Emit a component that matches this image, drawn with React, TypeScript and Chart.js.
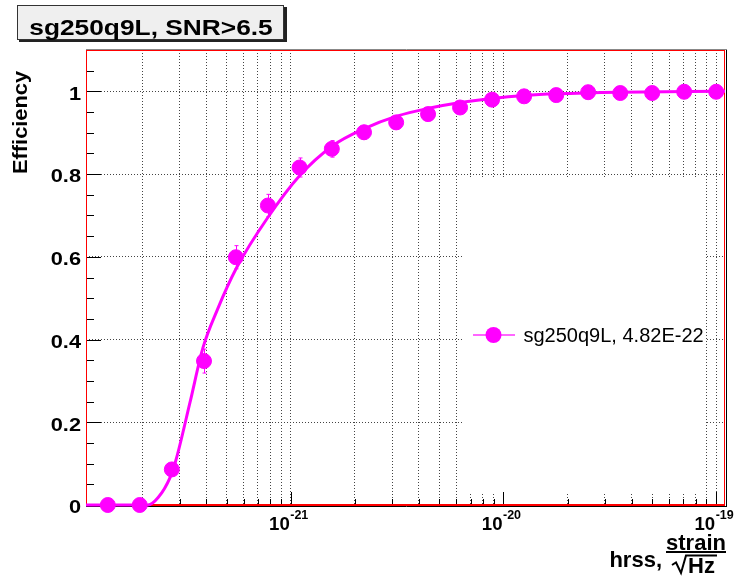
import React, { useEffect, useRef } from "react";
import { Chart, registerables } from "chart.js";

Chart.register(...registerables);

// ---- data ----
const hrss = [1.38e-22, 1.95e-22, 2.76e-22, 3.91e-22, 5.52e-22, 7.81e-22, 1.10e-21, 1.56e-21, 2.21e-21, 3.13e-21, 4.42e-21, 6.25e-21, 8.84e-21, 1.25e-20, 1.77e-20, 2.50e-20, 3.54e-20, 5.00e-20, 7.07e-20, 1.00e-19];
const efficiency = [0, 0, 0.086, 0.348, 0.599, 0.724, 0.816, 0.861, 0.901, 0.925, 0.945, 0.961, 0.98, 0.988, 0.991, 0.998, 0.996, 0.996, 0.999, 0.999];
const effError = [0.002, 0.002, 0.016, 0.029, 0.028, 0.027, 0.023, 0.02, 0.017, 0.015, 0.013, 0.011, 0.008, 0.006, 0.005, 0.003, 0.003, 0.003, 0.002, 0.002];

const fitHrss = [1.09e-22, 2.13e-22, 2.38e-22, 2.71e-22, 2.88e-22, 3.36e-22, 3.87e-22, 4.5e-22, 5.57e-22, 7.8e-22, 1.1e-21, 1.57e-21, 2.22e-21, 3.15e-21, 4.45e-21, 6.28e-21, 8.87e-21, 1.26e-20, 1.77e-20, 3.51e-20, 1.1e-19];
const fitEff = [0, 0, 0.018, 0.067, 0.107, 0.248, 0.381, 0.47, 0.574, 0.695, 0.796, 0.868, 0.91, 0.94, 0.959, 0.973, 0.983, 0.99, 0.994, 0.998, 1.0];

const xMin = 1.09e-22;
const xMax = 1.1e-19;
const xGridTicks = [2e-22, 3e-22, 4e-22, 5e-22, 6e-22, 7e-22, 8e-22, 9e-22, 1e-21, 2e-21, 3e-21, 4e-21, 5e-21, 6e-21, 7e-21, 8e-21, 9e-21, 1e-20, 2e-20, 3e-20, 4e-20, 5e-20, 6e-20, 7e-20, 8e-20, 9e-20, 1e-19];
const xMajorTicks = [1e-21, 1e-20, 1e-19];
const xMajorExponents = ["-21", "-20", "-19"];
const yTicks = [0, 0.2, 0.4, 0.6, 0.8, 1];
const yTickLabels = ["0", "0.2", "0.4", "0.6", "0.8", "1"];
const yMinorTicks = [0.05, 0.1, 0.15, 0.25, 0.3, 0.35, 0.45, 0.5, 0.55, 0.65, 0.7, 0.75, 0.85, 0.9, 0.95, 1.05];

const titleText = "sg250q9L, SNR>6.5";
const legendText = "sg250q9L, 4.82E-22";
const yTitle = "Efficiency";
const MAGENTA = "#ff00ff";

function drawText(ctx: CanvasRenderingContext2D, s: string, x: number, y: number, font: string, align: CanvasTextAlign, sx: number, color = "#000", rot = 0) {
  ctx.save();
  ctx.font = font;
  ctx.fillStyle = color;
  ctx.textBaseline = "alphabetic";
  ctx.textAlign = align;
  ctx.translate(x, y);
  if (rot) ctx.rotate(rot);
  ctx.scale(sx, 1);
  ctx.fillText(s, 0, 0);
  ctx.restore();
}

const rootPlugin = {
  id: "rootDecor",
  beforeDatasetsDraw(chart: any) {
    const ctx: CanvasRenderingContext2D = chart.ctx;
    const xs = chart.scales.x;
    const ys = chart.scales.y;
    const area = chart.chartArea;
    // legend box (white, covers grid)
    ctx.save();
    ctx.fillStyle = "#ffffff";
    ctx.fillRect(463, 177, 242, 316);
    ctx.restore();

    // inner tick marks
    ctx.save();
    ctx.strokeStyle = "#000";
    ctx.lineWidth = 1;
    ctx.beginPath();
    xGridTicks.forEach((v) => {
      const px = Math.round(xs.getPixelForValue(v)) + 0.5;
      const len = xMajorTicks.includes(v) ? 13 : 6;
      ctx.moveTo(px, area.bottom);
      ctx.lineTo(px, area.bottom - len);
    });
    yTicks.forEach((v) => {
      const py = Math.round(ys.getPixelForValue(v)) + 0.5;
      ctx.moveTo(area.left, py);
      ctx.lineTo(area.left + 15, py);
    });
    yMinorTicks.forEach((v) => {
      const py = Math.round(ys.getPixelForValue(v)) + 0.5;
      ctx.moveTo(area.left, py);
      ctx.lineTo(area.left + 8, py);
    });
    ctx.stroke();
    ctx.restore();

    // frame
    ctx.save();
    ctx.lineWidth = 1;
    ctx.strokeStyle = "#888";
    ctx.beginPath();
    ctx.moveTo(area.left, area.top - 0.5);
    ctx.lineTo(area.right + 2, area.top - 0.5);
    ctx.stroke();
    ctx.strokeStyle = "#000";
    ctx.beginPath();
    ctx.moveTo(area.right + 1.5, area.top);
    ctx.lineTo(area.right + 1.5, area.bottom + 2);
    ctx.moveTo(area.left, area.bottom + 1.5);
    ctx.lineTo(area.right + 2, area.bottom + 1.5);
    ctx.stroke();
    ctx.strokeStyle = "#ff0000";
    ctx.strokeRect(area.left + 0.5, area.top + 0.5, area.right - area.left - 1, area.bottom - area.top - 1);
    ctx.lineWidth = 2;
    ctx.beginPath();
    ctx.moveTo(area.left, area.bottom);
    ctx.lineTo(area.right, area.bottom);
    ctx.stroke();
    ctx.restore();
  },
  afterDatasetsDraw(chart: any) {
    const ctx: CanvasRenderingContext2D = chart.ctx;
    const xs = chart.scales.x;
    const ys = chart.scales.y;
    // error bars
    ctx.save();
    ctx.strokeStyle = MAGENTA;
    ctx.lineWidth = 1;
    ctx.beginPath();
    hrss.forEach((h, i) => {
      const px = Math.round(xs.getPixelForValue(h)) + 0.5;
      const y1 = ys.getPixelForValue(efficiency[i] - effError[i]);
      const y2 = ys.getPixelForValue(efficiency[i] + effError[i]);
      ctx.moveTo(px, y1);
      ctx.lineTo(px, y2);
      ctx.moveTo(px - 2, y1);
      ctx.lineTo(px + 2, y1);
      ctx.moveTo(px - 2, y2);
      ctx.lineTo(px + 2, y2);
    });
    ctx.stroke();
    ctx.restore();

    // legend entry
    ctx.save();
    ctx.strokeStyle = "#ff66ff";
    ctx.lineWidth = 2;
    ctx.beginPath();
    ctx.moveTo(473, 335);
    ctx.lineTo(515, 335);
    ctx.stroke();
    ctx.fillStyle = MAGENTA;
    ctx.beginPath();
    ctx.arc(493.5, 335, 8, 0, Math.PI * 2);
    ctx.fill();
    ctx.restore();
    drawText(ctx, legendText, 523.5, 341.5, '20px "Liberation Sans", Arial, sans-serif', "left", 1.0, "#000");
  },
  afterDraw(chart: any) {
    const ctx: CanvasRenderingContext2D = chart.ctx;
    const xs = chart.scales.x;
    const ys = chart.scales.y;
    const boldFont = (px: number) => `bold ${px}px "Liberation Sans", Arial, sans-serif`;

    // y tick labels
    yTicks.forEach((v, i) => {
      const py = ys.getPixelForValue(v);
      drawText(ctx, yTickLabels[i], 81, py + 8.4, boldFont(18.6), "right", 1.17);
    });
    // x tick labels 10^n
    xMajorTicks.forEach((v, i) => {
      const px = xs.getPixelForValue(v);
      drawText(ctx, "10", px - 1, 529.5, boldFont(18.6), "right", 1.0);
      drawText(ctx, xMajorExponents[i], px - 0.5, 518.5, boldFont(12.5), "left", 1.0);
    });

    // y title
    drawText(ctx, yTitle, 27, 71, boldFont(20), "right", 1.09, "#000", -Math.PI / 2);

    // x title: hrss, strain / sqrt(Hz)
    drawText(ctx, "hrss,", 662, 566.5, boldFont(22), "right", 1.0);
    drawText(ctx, "strain", 696, 550, boldFont(22), "center", 1.0);
    ctx.save();
    ctx.fillStyle = "#000";
    ctx.fillRect(666, 551, 60, 2);
    ctx.strokeStyle = "#000";
    ctx.lineWidth = 2;
    ctx.lineJoin = "miter";
    ctx.beginPath();
    ctx.moveTo(672, 565);
    ctx.lineTo(676, 562.5);
    ctx.lineTo(681, 573);
    ctx.lineTo(686, 555.5);
    ctx.lineTo(717, 555.5);
    ctx.stroke();
    ctx.restore();
    drawText(ctx, "Hz", 688, 573, boldFont(22), "left", 1.0);

    // title box
    ctx.save();
    ctx.fillStyle = "#222";
    ctx.fillRect(19, 7, 268, 35);
    ctx.fillStyle = "#efefef";
    ctx.fillRect(17, 5, 267, 35);
    ctx.strokeStyle = "#333";
    ctx.lineWidth = 1;
    ctx.strokeRect(17.5, 5.5, 266, 34);
    ctx.restore();
    drawText(ctx, titleText, 151, 35, boldFont(22.3), "center", 1.18);
  },
};

export default function App() {
  const canvasRef = useRef<HTMLCanvasElement | null>(null);

  useEffect(() => {
    if (!canvasRef.current) return;
    const chart = new Chart(canvasRef.current, {
      type: "scatter",
      data: {
        datasets: [
          {
            label: "fit",
            data: fitHrss.map((x, i) => ({ x, y: fitEff[i] })),
            showLine: true,
            borderColor: MAGENTA,
            backgroundColor: MAGENTA,
            borderWidth: 3,
            pointRadius: 0,
            cubicInterpolationMode: "monotone",
            fill: false,
            clip: false,
          } as any,
          {
            label: legendText,
            data: hrss.map((x, i) => ({ x, y: efficiency[i] })),
            showLine: false,
            pointRadius: 7.5,
            pointBackgroundColor: MAGENTA,
            pointBorderColor: MAGENTA,
            pointBorderWidth: 1,
            clip: false,
          } as any,
        ],
      },
      options: {
        animation: false,
        responsive: false,
        events: [],
        layout: { padding: { top: 50, right: 14, left: 0, bottom: 0 } },
        plugins: { legend: { display: false }, tooltip: { enabled: false }, title: { display: false } },
        scales: {
          x: {
            type: "logarithmic",
            min: xMin,
            max: xMax,
            afterBuildTicks: (scale: any) => {
              scale.ticks = xGridTicks.map((v) => ({ value: v }));
            },
            afterFit: (scale: any) => {
              scale.height = 75;
            },
            ticks: { display: false },
            grid: { color: "#444", lineWidth: 1, drawTicks: false, tickLength: 0, borderDash: [1, 2] } as any,
            border: { display: false, dash: [1, 2] },
          },
          y: {
            type: "linear",
            min: 0,
            max: 1.1,
            afterBuildTicks: (scale: any) => {
              scale.ticks = yTicks.map((v) => ({ value: v }));
            },
            afterFit: (scale: any) => {
              scale.width = 86;
            },
            ticks: { display: false },
            grid: { color: "#444", lineWidth: 1, drawTicks: false, tickLength: 0, borderDash: [1, 2] } as any,
            border: { display: false, dash: [1, 2] },
          },
        },
      } as any,
      plugins: [rootPlugin],
    });
    return () => chart.destroy();
  }, []);

  return (
    <div style={{ position: "fixed", left: 0, top: 0, width: 739, height: 580, background: "#fff" }}>
      <canvas ref={canvasRef} width={739} height={580} style={{ display: "block" }} />
    </div>
  );
}
